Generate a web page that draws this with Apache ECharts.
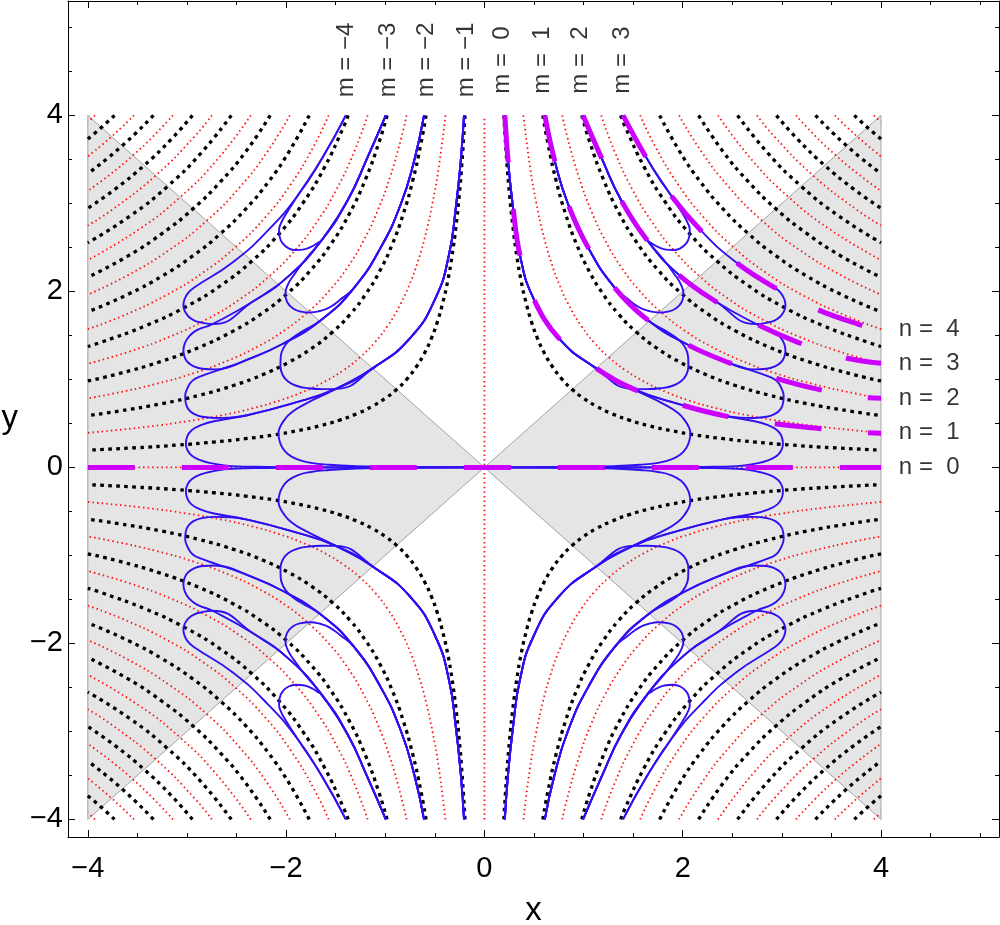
<!DOCTYPE html>
<html><head><meta charset="utf-8">
<script src="https://cdn.jsdelivr.net/npm/echarts@6.0.0/dist/echarts.min.js"></script>
<style>html,body{margin:0;padding:0;background:#fff}#c{width:1000px;height:925px}</style>
</head><body><div id="c"></div>
<script>
// ---------- axis ranges and ticks ----------
const X_MIN = -4.2, X_MAX = 5.19, Y_MIN = -4.2, Y_MAX = 5.3;
const MAJOR_TICKS = [-4, -2, 0, 2, 4];
const MINOR_TICKS = [-4,-3.5,-3,-2.5,-2,-1.5,-1,-0.5,0,0.5,1,1.5,2,2.5,3,3.5,4,4.5,5];

// ---------- shaded wedges |y|<|x| ----------
const SHADE_LEFT = [[-4,4],[0,0],[-4,-4]];
const SHADE_RIGHT = [[4,4],[0,0],[4,-4]];

// ---------- red dotted level curves (first quadrant) ----------
const RED_AXES = [[[0,-4],[0,4]], [[-4,0],[4,0]]];
const R1 = [[0.393,4],[0.461,3.407],[0.523,3.007],[0.592,2.653],[0.671,2.341],[0.760,2.066],[0.861,1.824],[0.976,1.609],[1.106,1.420],[1.253,1.253],[1.420,1.106],[1.609,0.976],[1.824,0.861],[2.066,0.760],[2.341,0.671],[2.653,0.592],[3.007,0.523],[3.407,0.461],[4,0.393]];
const R2 = [[0.785,4],[0.837,3.752],[0.949,3.311],[1.075,2.922],[1.218,2.579],[1.380,2.276],[1.564,2.008],[1.773,1.773],[2.008,1.564],[2.276,1.380],[2.579,1.218],[2.922,1.075],[3.311,0.949],[3.752,0.837],[4,0.785]];
const R3 = [[1.178,4],[1.317,3.579],[1.492,3.159],[1.691,2.787],[1.916,2.460],[2.171,2.171],[2.460,1.916],[2.787,1.691],[3.159,1.492],[3.579,1.317],[4,1.178]];
const R4 = [[1.571,4],[1.723,3.647],[1.952,3.218],[2.212,2.840],[2.507,2.507],[2.840,2.212],[3.218,1.952],[3.647,1.723],[4,1.571]];
const R5 = [[1.963,4],[2.183,3.598],[2.473,3.176],[2.802,2.802],[3.176,2.473],[3.598,2.183],[4,1.963]];
const R6 = [[2.356,4],[2.709,3.479],[3.070,3.070],[3.479,2.709],[4,2.356]];
const R7 = [[2.749,4],[2.926,3.757],[3.316,3.316],[3.757,2.926],[4,2.749]];
const R8 = [[3.142,4],[3.339,3.764],[3.545,3.545],[3.764,3.339],[4,3.142]];
const R9 = [[3.534,4],[3.760,3.760],[4,3.534]];
const R10 = [[3.927,4],[3.963,3.963],[4,3.927]];
const RED_CURVES = [R1,R2,R3,R4,R5,R6,R7,R8,R9,R10];

// ---------- black dotted level curves (first quadrant) ----------
const B0 = [[0.196,4],[0.224,3.505],[0.254,3.093],[0.288,2.730],[0.326,2.409],[0.369,2.126],[0.419,1.876],[0.474,1.656],[0.537,1.461],[0.609,1.289],[0.690,1.138],[0.782,1.004],[0.886,0.886],[1.004,0.782],[1.138,0.690],[1.289,0.609],[1.461,0.537],[1.656,0.474],[1.876,0.419],[2.126,0.369],[2.409,0.326],[2.730,0.288],[3.093,0.254],[3.505,0.224],[4,0.196]];
const B1 = [[0.589,4],[0.640,3.682],[0.725,3.250],[0.822,2.868],[0.931,2.531],[1.055,2.233],[1.196,1.971],[1.355,1.739],[1.535,1.535],[1.739,1.355],[1.971,1.196],[2.233,1.055],[2.531,0.931],[2.868,0.822],[3.250,0.725],[3.682,0.640],[4,0.589]];
const B2 = [[0.982,4],[1.061,3.702],[1.202,3.267],[1.362,2.883],[1.543,2.545],[1.749,2.246],[1.982,1.982],[2.246,1.749],[2.545,1.543],[2.883,1.362],[3.267,1.202],[3.702,1.061],[4,0.982]];
const B3 = [[1.374,4],[1.422,3.866],[1.612,3.412],[1.826,3.011],[2.069,2.657],[2.345,2.345],[2.657,2.069],[3.011,1.826],[3.412,1.612],[3.866,1.422],[4,1.374]];
const B4 = [[1.767,4],[1.970,3.589],[2.177,3.247],[2.406,2.938],[2.659,2.659],[2.938,2.406],[3.247,2.177],[3.589,1.970],[4,1.767]];
const B5 = [[2.160,4],[2.406,3.590],[2.660,3.249],[2.939,2.939],[3.249,2.660],[3.590,2.406],[4,2.160]];
const B6 = [[2.553,4],[2.862,3.567],[3.195,3.195],[3.567,2.862],[4,2.553]];
const B7 = [[2.945,4],[3.168,3.718],[3.432,3.432],[3.718,3.168],[4,2.945]];
const B8 = [[3.338,4],[3.654,3.654],[4,3.338]];
const B9 = [[3.731,4],[3.863,3.863],[4,3.731]];
const BLACK_CURVES = [B0,B1,B2,B3,B4,B5,B6,B7,B8,B9];

// ---------- magenta dashed curves n = 1..4 (upper right), n = 0 on the x axis ----------
const P0 = [[-4,0],[4,0]];
const P1 = [[0.206,4.0],[0.239,3.48],[0.289,2.95],[0.357,2.42],[0.491,1.93],[0.743,1.477],[1.113,1.137],[1.499,0.892],[1.953,0.722],[2.406,0.590],[2.877,0.505],[3.331,0.447],[3.80,0.398],[4.0,0.389]];
const P2 = [[0.609,4.0],[0.710,3.48],[0.844,2.99],[1.045,2.50],[1.315,2.04],[1.634,1.686],[2.037,1.402],[2.457,1.194],[2.910,1.024],[3.348,0.892],[3.818,0.797],[4.0,0.786]];
const P3 = [[0.995,4.0],[1.180,3.52],[1.382,3.03],[1.634,2.593],[1.953,2.196],[2.323,1.893],[2.743,1.629],[3.162,1.421],[3.616,1.251],[4.0,1.183]];
const P4 = [[1.398,4.0],[1.634,3.518],[1.886,3.084],[2.188,2.687],[2.541,2.328],[2.927,2.044],[3.348,1.799],[3.767,1.629],[4.0,1.56]];
const MAGENTA_CURVES = [P1,P2,P3,P4];

// ---------- blue curves (upper right; loops) ----------
const U10 = P1.slice(0,8).concat([[1.80,0.725],[1.95,0.62],[2.03,0.52],[2.068,0.44],[2.077,0.382],[2.068,0.31],[2.040,0.23],[1.98,0.15],[1.886,0.090],[1.75,0.052],[1.566,0.030],[1.30,0.014],[1.0,0.007],[0.5,0.002],[0,0]]);
const U11 = P2.slice(0,6).concat([[1.86,1.53],[1.97,1.44],[2.03,1.35],[2.055,1.25],[2.057,1.15],[2.035,1.05],[1.98,0.975],[1.89,0.925],[1.78,0.900],[1.64,0.89]]).concat(P1.slice(0,8).reverse());
const U12 = P3.slice(0,4).concat([[1.80,2.37],[1.92,2.19],[1.985,2.07],[2.008,1.97],[1.99,1.88],[1.93,1.805],[1.85,1.770],[1.76,1.760],[1.65,1.780],[1.56,1.82],[1.45,1.91]]).concat(P2.slice(0,5).reverse());
const U13 = P4.slice(0,3).concat([[2.003,2.876],[2.050,2.78],[2.071,2.70],[2.065,2.62],[2.035,2.545],[1.975,2.49],[1.902,2.470],[1.83,2.475],[1.75,2.505],[1.69,2.545]]).concat(P3.slice(0,4).reverse());
const U20 = P1.slice(0,10).concat([[2.70,0.53],[2.86,0.48],[2.955,0.42],[2.998,0.35],[3.011,0.269],[2.995,0.195],[2.950,0.133],[2.86,0.080],[2.743,0.045],[2.55,0.015],[2.2,0.006],[1.6,0.002],[0,0]]);
const U21 = P2.slice(0,8).concat([[2.70,1.10],[2.85,1.04],[2.944,0.986],[2.995,0.90],[3.018,0.810],[3.012,0.730],[2.985,0.660],[2.93,0.608],[2.844,0.575],[2.72,0.562],[2.575,0.566]]).concat(P1.slice(0,10).reverse());
const U22 = P3.slice(0,7).concat([[2.90,1.56],[2.978,1.490],[3.022,1.41],[3.036,1.327],[3.024,1.255],[2.992,1.195],[2.93,1.148],[2.844,1.121],[2.72,1.114],[2.59,1.135]]).concat(P2.slice(0,8).reverse());
const U23 = P4.slice(0,6).concat([[2.990,1.980],[3.025,1.91],[3.036,1.845],[3.022,1.775],[2.985,1.715],[2.93,1.672],[2.85,1.645]]).concat(P3.slice(0,7).reverse());
const BLUE_CURVES = [U10,U11,U12,U13,U20,U21,U22,U23];

// ---------- labels ----------
const M_VALUES = [-4,-3,-2,-1,0,1,2,3];
const M_LABEL_X = [-1.395,-0.967,-0.584,-0.177,0.180,0.584,0.970,1.390];
const M_LABEL_Y = 4.63;
const N_VALUES = [0,1,2,3,4];
const N_LABEL_Y = [0.0,0.393,0.785,1.178,1.571];
const N_LABEL_X = 4.18;

// ---------- build ----------
const FONT = 'Liberation Sans, Arial, sans-serif';
function quads(c){ return [c, c.map(p=>[-p[0],p[1]]), c.map(p=>[p[0],-p[1]]), c.map(p=>[-p[0],-p[1]])]; }
function line(data, style, z, smooth){
  return {type:'line', data, xAxisIndex:0, yAxisIndex:0, showSymbol:false, symbol:'none', smooth, silent:true, z, clip:true, lineStyle:style};
}
const series = [];
series.push({type:'custom', xAxisIndex:0, yAxisIndex:0, silent:true, z:1, clip:true,
  data:[[0,0],[0,0]],
  renderItem:(params, api)=>{
    const poly = [SHADE_LEFT, SHADE_RIGHT][params.dataIndex];
    return {type:'polygon', shape:{points: poly.map(p=>api.coord(p))}, style:{fill:'#e5e5e5', stroke:'#a3a3a3', lineWidth:1}};
  }});
const redStyle = {color:'#ff1010', width:1.8, type:[1.5,3.1], cap:'butt'};
const blackStyle = {color:'#000000', width:3.3, type:[3.6,4.4], cap:'butt'};
const blueStyle = {color:'#2f10f2', width:1.9};
const magStyle = {color:'#cc00ff', width:5, type:[47,47], cap:'butt'};
RED_AXES.forEach(c=>series.push(line(c, redStyle, 2, false)));
RED_CURVES.forEach(c=>quads(c).forEach(q=>series.push(line(q, redStyle, 2, 0.5))));
BLACK_CURVES.forEach(c=>quads(c).forEach(q=>series.push(line(q, blackStyle, 3, 0.5))));
BLUE_CURVES.forEach(c=>quads(c).forEach(q=>series.push(line(q, blueStyle, 4, 0.5))));
series.push(line(P0, magStyle, 5, false));
MAGENTA_CURVES.forEach(c=>series.push(line(c, magStyle, 5, 0.4)));
series.push({type:'scatter', xAxisIndex:0, yAxisIndex:0, silent:true, z:6, symbolSize:0,
  data: M_VALUES.map((m,i)=>({value:[M_LABEL_X[i], M_LABEL_Y], name: m<0 ? 'm = \u2212'+(-m) : 'm =  '+m})),
  label:{show:true, formatter:p=>p.name, rotate:90, position:[0,0], align:'center', verticalAlign:'middle', fontSize:24, color:'#000', fontFamily:FONT}});
series.push({type:'scatter', xAxisIndex:0, yAxisIndex:0, silent:true, z:6, symbolSize:0,
  data: N_VALUES.map((n,i)=>({value:[N_LABEL_X, N_LABEL_Y[i]], name:'n =  '+n})),
  label:{show:true, formatter:p=>p.name, position:[0,0], align:'left', verticalAlign:'middle', fontSize:24, color:'#000', fontFamily:FONT}});

const fmt = v => (v<0 ? '\u2212' : '') + Math.abs(v);
function ax(kind, pos, ticks, len, showLine, labels, extra){
  const a = {type:'value', min: kind==='x'?X_MIN:Y_MIN, max: kind==='x'?X_MAX:Y_MAX, position:pos,
    axisLine:{show:showLine, onZero:false, lineStyle:{color:'#000', width:1}},
    axisTick:{show:true, inside:true, length:len, customValues:ticks, lineStyle:{color:'#000', width:1}},
    axisLabel:{show:labels, customValues:ticks, formatter:fmt, fontSize:29, color:'#000', fontFamily:FONT, margin: kind==='x'?17:5},
    splitLine:{show:false}};
  return Object.assign(a, extra||{});
}
const option = {
  animation:false, backgroundColor:'#fff',
  grid:{left:68, right:1, top:1, bottom:88, containLabel:false, outerBoundsMode:'none'},
  xAxis:[
    ax('x','bottom',MAJOR_TICKS,7,true,true,{name:'x', nameLocation:'middle', nameGap:57, nameTextStyle:{fontSize:33, color:'#000', fontFamily:FONT}}),
    ax('x','bottom',MINOR_TICKS,4,false,false),
    ax('x','top',MAJOR_TICKS,7,true,false),
    ax('x','top',MINOR_TICKS,4,false,false)
  ],
  yAxis:[
    ax('y','left',MAJOR_TICKS,7,true,true,{name:'y', nameLocation:'middle', nameRotate:0, nameGap:50, nameTextStyle:{fontSize:33, color:'#000', fontFamily:FONT}}),
    ax('y','left',MINOR_TICKS,4,false,false),
    ax('y','right',MAJOR_TICKS,7,true,false),
    ax('y','right',MINOR_TICKS,4,false,false)
  ],
  series
};
const chart = echarts.init(document.getElementById('c'), null, {renderer:'canvas'});
chart.setOption(option);
</script></body></html>
